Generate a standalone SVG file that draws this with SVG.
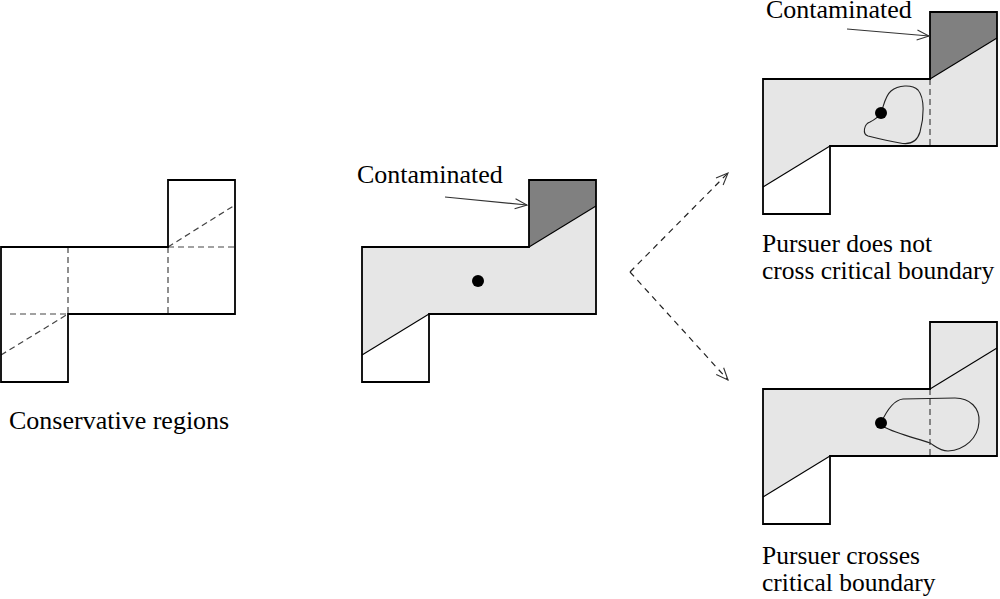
<svg xmlns="http://www.w3.org/2000/svg" width="1000" height="599" viewBox="0 0 1000 599">
<defs>
<style>
.outline{fill:none;stroke:#000;stroke-width:1.8;stroke-linejoin:miter}
.light{fill:#e6e6e6;stroke:none}
.dark{fill:#808080;stroke:none}
.white{fill:#fff;stroke:none}
.diag{fill:none;stroke:#000;stroke-width:1.1}
.dash{fill:none;stroke:#444;stroke-width:1.2;stroke-dasharray:6,4}
.loop{fill:none;stroke:#222;stroke-width:1.1}
.lbl{font-family:"Liberation Serif","Times New Roman",serif;font-size:26px;fill:#000}
.ml{font-size:25.5px}
.ptr{fill:none;stroke:#333;stroke-width:1.1}
.flow{fill:none;stroke:#222;stroke-width:1.2;stroke-dasharray:6,5}
</style>
<marker id="openhead" viewBox="0 0 14 12" refX="13" refY="6" markerWidth="14" markerHeight="12" markerUnits="userSpaceOnUse" orient="auto">
<path d="M1,1 L13,6 L1,11" fill="none" stroke="#333" stroke-width="1.1"/>
</marker>
</defs>

<g id="conservative">
<line class="dash" x1="68" y1="247" x2="68" y2="314"/>
<line class="dash" x1="168" y1="247" x2="168" y2="314"/>
<line class="dash" x1="168" y1="247" x2="235" y2="247"/>
<line class="dash" x1="10" y1="314" x2="68" y2="314"/>
<line class="dash" x1="1" y1="355" x2="68" y2="314"/>
<line class="dash" x1="168" y1="247" x2="235" y2="205"/>
<path class="outline" d="M1,247 L168,247 L168,180 L235,180 L235,314 L68,314 L68,382 L1,382 Z"/>
<text class="lbl" x="9" y="429">Conservative regions</text>
</g>

<g id="middle">
<path class="light" d="M362,247 L529,247 L529,180 L596,180 L596,314 L429,314 L429,382 L362,382 Z"/>
<path class="dark" d="M529,180 L596,180 L596,206 L529,247 Z"/>
<path class="white" d="M362,355 L429,314 L429,382 L362,382 Z"/>
<line class="diag" x1="529" y1="247" x2="596" y2="206"/>
<line class="diag" x1="362" y1="355" x2="429" y2="314"/>
<path class="outline" d="M362,247 L529,247 L529,180 L596,180 L596,314 L429,314 L429,382 L362,382 Z"/>
<circle cx="478" cy="281" r="6" fill="#000"/>
<text class="lbl" x="357" y="183">Contaminated</text>
<line class="ptr" x1="445" y1="197" x2="527" y2="205" marker-end="url(#openhead)"/>
</g>

<g id="no-cross">
<path class="light" d="M763,79 L930,79 L930,12 L997,12 L997,146 L830,146 L830,214 L763,214 Z"/>
<path class="dark" d="M930,12 L997,12 L997,38 L930,79 Z"/>
<path class="white" d="M763,187 L830,146 L830,214 L763,214 Z"/>
<line class="diag" x1="930" y1="79" x2="997" y2="38"/>
<line class="diag" x1="763" y1="187" x2="830" y2="146"/>
<line class="dash" x1="930" y1="79" x2="930" y2="146"/>
<path class="loop" d="M881,113 C884,105 885,96 891,91 C898,85 912,84 918,90 C925,98 924,118 920,132 C917,142 910,145 900,143 C888,141 876,138 868,136 C862,134 864,124 870,122 C874,120 878,118 881,113 Z"/>
<path class="outline" d="M763,79 L930,79 L930,12 L997,12 L997,146 L830,146 L830,214 L763,214 Z"/>
<circle cx="881" cy="113" r="6" fill="#000"/>
<text class="lbl" x="766" y="18">Contaminated</text>
<line class="ptr" x1="847" y1="29" x2="929" y2="36" marker-end="url(#openhead)"/>
<text class="lbl ml" x="762" y="252">Pursuer does not</text>
<text class="lbl ml" x="762" y="279">cross critical boundary</text>
</g>

<g id="cross">
<path class="light" d="M763,389 L930,389 L930,322 L997,322 L997,456 L830,456 L830,524 L763,524 Z"/>
<path class="white" d="M763,497 L830,456 L830,524 L763,524 Z"/>
<line class="diag" x1="930" y1="389" x2="997" y2="348"/>
<line class="diag" x1="763" y1="497" x2="830" y2="456"/>
<line class="dash" x1="930" y1="389" x2="930" y2="456"/>
<path class="loop" d="M881,423 C886,412 893,400 903,399 L955,398 C970,398 980,408 979,422 C978,438 965,450 948,451 C940,451 935,446 930,443 C915,438 895,433 884,427 Z"/>
<path class="outline" d="M763,389 L930,389 L930,322 L997,322 L997,456 L830,456 L830,524 L763,524 Z"/>
<circle cx="881" cy="423" r="6" fill="#000"/>
<text class="lbl ml" x="762" y="564">Pursuer crosses</text>
<text class="lbl ml" x="762" y="591">critical boundary</text>
</g>

<g id="connectors">
<line class="flow" x1="630" y1="272" x2="728" y2="173" marker-end="url(#openhead)"/>
<line class="flow" x1="630" y1="272" x2="728" y2="380" marker-end="url(#openhead)"/>
</g>
</svg>
